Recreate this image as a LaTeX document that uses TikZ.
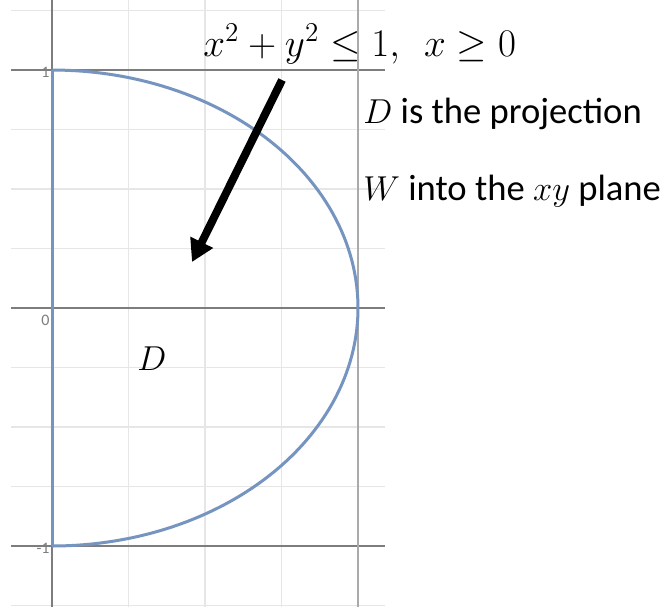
\documentclass[tikz,border=0pt]{standalone}
\usepackage{fontspec}
\setmainfont{Carlito}
\usetikzlibrary{arrows.meta}
\definecolor{gridc}{RGB}{230,230,230}
\definecolor{axisc}{RGB}{125,125,125}
\definecolor{axisl}{RGB}{170,170,170}
\definecolor{curvec}{RGB}{118,148,192}
\tikzset{
  gridline/.style={draw=gridc, line width=0.9pt},
  axisline/.style={draw=axisc, line width=1.4pt},
  curveline/.style={draw=curvec, line width=1.5pt},
  ticklab/.style={font=\fontsize{8}{9}\selectfont, text=axisc, inner sep=0pt},
  txt/.style={font=\fontsize{18.3}{21}\selectfont, inner sep=0pt, anchor=base west},
  bigarrow/.style={line width=4pt, -{Triangle[width=12pt,length=11pt]}}
}
\begin{document}
\begin{tikzpicture}[x=0.5pt,y=-0.5pt]
\useasboundingbox[fill=white] (0,0) rectangle (672,607);
% light grid
\foreach \gx in {128.5,205,281.5} \draw[gridline] (\gx,0) -- (\gx,607);
\foreach \gy in {10.5,129.5,189,248.5,367.5,427,486.5,605.5} \draw[gridline] (11,\gy) -- (385,\gy);
% dark lines
\draw[axisline] (11,70) -- (385,70);
\draw[axisline] (11,308) -- (385,308);
\draw[axisline] (11,546) -- (385,546);
\draw[axisline] (52,0) -- (52,607);
\draw[draw=axisl, line width=0.9pt] (358,0) -- (358,607);
% region boundary
\draw[curveline] (52,70) -- (52,546);
\draw[curveline] plot[domain=-90:90, samples=120] ({52+306*cos(\x)},{308+238*sin(\x)});
% tick labels
\node[ticklab, anchor=east] (t1) at (50,72) {1};
\node[ticklab, anchor=east] (t0) at (50,320) {0};
\node[ticklab, anchor=east] (tm1) at (50,548) {-1};
% texts
\node[txt, font=\fontsize{20.74}{24}\selectfont, scale=0.943] (eq) at (203,56) {$x^2+y^2\le 1,\ \ x\ge 0$};
\node[txt] (l1) at (363,123) {$D$ is the projection};
\node[txt] (l2) at (363,200) {$W$ into the $xy$ plane};
\node[txt] (dl) at (137,370) {$D$};
% arrow
\coordinate (as) at (282,80);
\coordinate (ae) at (192,262);
\draw[bigarrow] (as) -- (ae);
\end{tikzpicture}
\end{document}
